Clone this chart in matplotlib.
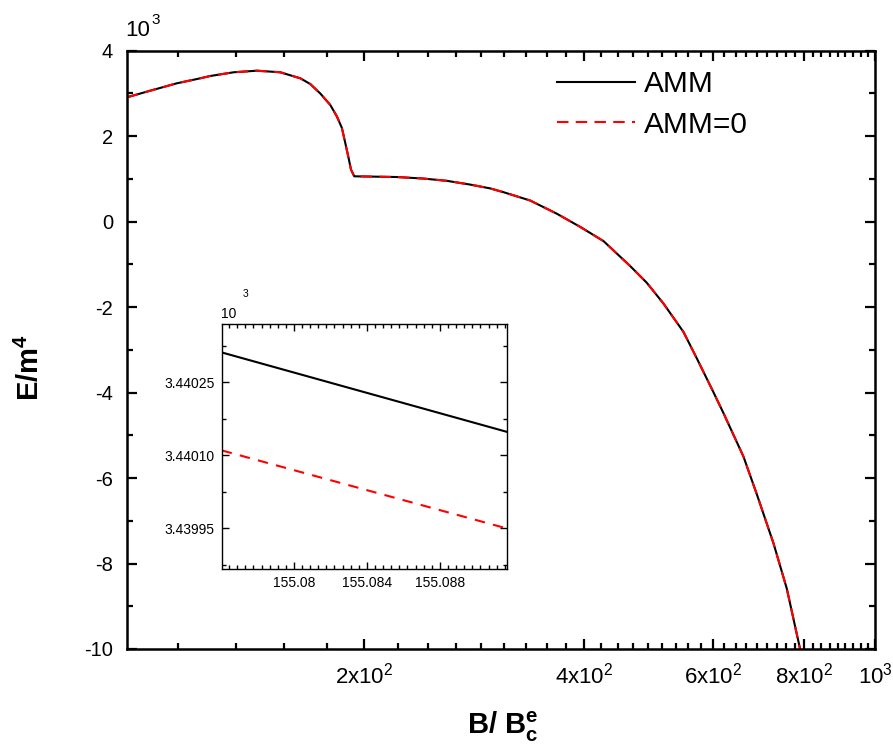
import numpy as np
import matplotlib
matplotlib.use("Agg")
import matplotlib.pyplot as plt
from matplotlib.ticker import FixedLocator, MultipleLocator, AutoMinorLocator, NullFormatter

plt.rcParams['font.family'] = ['Liberation Sans', 'DejaVu Sans']
plt.rcParams['mathtext.fontset'] = 'custom'
plt.rcParams['mathtext.rm'] = 'Liberation Sans'
plt.rcParams['mathtext.it'] = 'Liberation Sans:italic'
plt.rcParams['mathtext.bf'] = 'Liberation Sans:bold'
plt.rcParams['axes.unicode_minus'] = False

# ---- data (E in units of 10^3) ----
B = [94.7, 101.9, 110.8, 119.3, 123.1, 132.5, 142.6, 153.5, 163.5, 168.7, 174.1,
     179.7, 183.5, 186.4, 188.4, 190.4, 191.8, 193.8, 221.6, 241.1, 259.5,
     279.3, 297.4, 310.2, 337.3, 366.9, 395.0, 425.2, 462.2, 487.2, 513.4,
     546.8, 570.3, 601.1, 620.3, 660.6, 689.0, 726.2, 757.3, 789.7]
E_amm = [2.91, 3.064, 3.237, 3.354, 3.408, 3.495, 3.532, 3.495, 3.354, 3.221, 3.0,
         2.73, 2.46, 2.192, 1.839, 1.485, 1.22, 1.061, 1.044, 1.008, 0.955,
         0.867, 0.778, 0.689, 0.495, 0.186, -0.123, -0.457, -1.037, -1.431, -1.915,
         -2.579, -3.197, -3.993, -4.479, -5.495, -6.377, -7.525, -8.585, -10.0]
E_amm0 = E_amm

inset_B = [155.07604, 155.09166]
inset_amm = [3.4403116, 3.4401485]
inset_amm0 = [3.4401103, 3.43995]

x_ticks = [200, 400, 600, 800, 1000]
x_ticklabels = [r'2x10$^2$', r'4x10$^2$', r'6x10$^2$', r'8x10$^2$', r'10$^3$']
y_ticks = [4, 2, 0, -2, -4, -6, -8, -10]
inset_xticks = [155.08, 155.084, 155.088]
inset_yticks = [3.43995, 3.44010, 3.44025]

W, H = 893, 749
fig = plt.figure(figsize=(W / 100, H / 100), dpi=100)
ax = fig.add_axes([127 / W, 1 - 649 / H, (875 - 127) / W, (649 - 50.7) / H])

ax.plot(B, E_amm, color='black', lw=1.5, label='AMM')
ax.plot(B, E_amm0, color='red', lw=1.5, ls=(0, (5.5, 3.5)), label='AMM=0')

ax.set_xscale('log')
ax.set_xlim(94.7, 1000)
ax.set_ylim(-10, 4)
ax.xaxis.set_major_locator(FixedLocator(x_ticks))
ax.set_xticklabels(x_ticklabels)
minors = [k * 200 / 9 for k in range(1, 46) if k % 9 != 0]
ax.xaxis.set_minor_locator(FixedLocator(minors))
ax.xaxis.set_minor_formatter(NullFormatter())
ax.set_yticks(y_ticks)
ax.set_yticklabels([str(v) for v in y_ticks])
ax.yaxis.set_minor_locator(MultipleLocator(1))

ax.tick_params(which='both', direction='in', top=True, right=True, width=1.6)
ax.tick_params(which='major', length=7)
ax.tick_params(which='minor', length=4.5)
ax.tick_params(axis='x', which='major', labelsize=16, pad=10)
ax.tick_params(axis='y', which='major', labelsize=14.5, pad=10)
for s in ax.spines.values():
    s.set_linewidth(1.8)

leg = ax.legend(loc='upper left', bbox_to_anchor=(557 / W, 1 - 70 / H),
                bbox_transform=fig.transFigure, frameon=False, fontsize=21.5,
                borderpad=0, borderaxespad=0, handlelength=2.6,
                handletextpad=0.3, labelspacing=0.42)

fig.text(125 / W, 1 - 36 / H, '10', fontsize=16, va='baseline', ha='left')
fig.text(151 / W, 1 - 24 / H, '3', fontsize=11, va='baseline', ha='left')

fig.text(30 / W, 1 - 368 / H, r'E/m$^{\mathbf{4}}$', fontsize=21, fontweight='bold',
         rotation=90, ha='center', va='center')
fig.text(503 / W, 1 - 727 / H, r'B/ B$^{\mathbf{e}}_{\mathbf{c}}$', fontsize=21,
         fontweight='bold', ha='center', va='center')

# ---- inset ----
axi = fig.add_axes([221.7 / W, 1 - 569.3 / H, (506.7 - 221.7) / W, (569.3 - 324) / H])
axi.plot(inset_B, inset_amm, color='black', lw=1.5)
axi.plot(inset_B, inset_amm0, color='red', lw=1.5, ls=(0, (5, 4)))
axi.set_xlim(155.07604, 155.09166)
axi.set_ylim(3.439866, 3.440370)
axi.set_xticks(inset_xticks)
axi.set_xticklabels(['155.08', '155.084', '155.088'])
axi.set_yticks(inset_yticks)
axi.set_yticklabels(['3.43995', '3.44010', '3.44025'])
axi.xaxis.set_minor_locator(AutoMinorLocator(9))
axi.yaxis.set_minor_locator(AutoMinorLocator(2))
axi.tick_params(which='both', direction='in', top=True, right=True, width=1.0,
                labelsize=10, pad=5)
axi.tick_params(which='major', length=5)
axi.tick_params(which='minor', length=3)
for s in axi.spines.values():
    s.set_linewidth(1.0)
fig.text(221 / W, 1 - 318 / H, '10', fontsize=10, va='baseline', ha='left')
fig.text(243 / W, 1 - 297 / H, '3', fontsize=7.5, va='baseline', ha='left')

fig.savefig('out.png', dpi=100)
